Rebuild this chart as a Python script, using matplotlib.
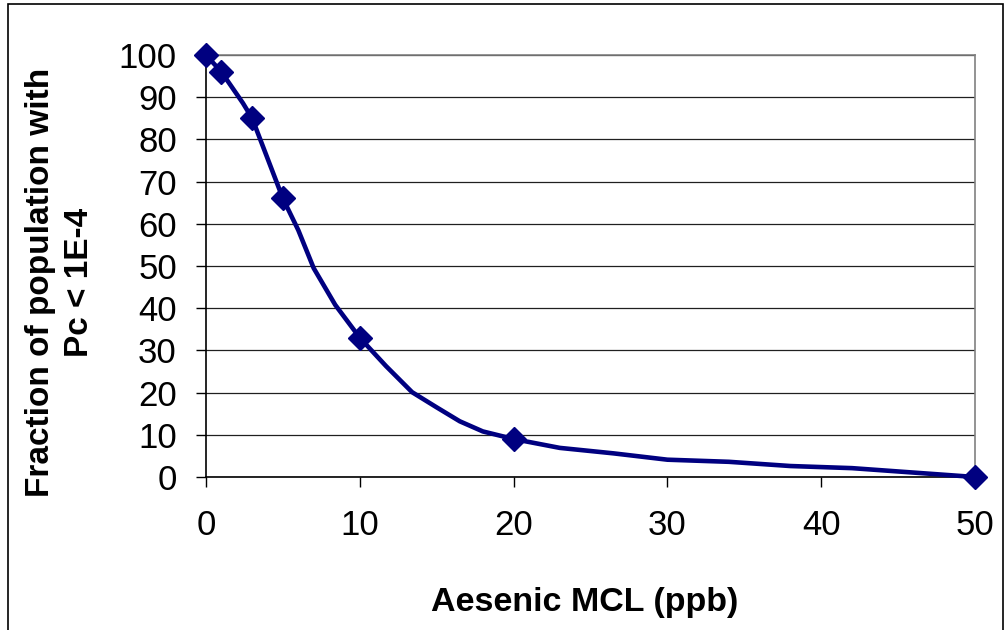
import matplotlib.pyplot as plt
from matplotlib.patches import Rectangle

plt.rcParams['font.family'] = ['Liberation Sans', 'DejaVu Sans']

# smoothed curve points
curve_x = [0, 1, 2.4, 3, 5, 6, 7, 8.4, 10, 11.7, 13.4, 15, 16.5, 18, 20,
           23, 26.5, 30, 34, 38, 42, 50]
curve_y = [100, 96, 88.6, 85, 66, 58.5, 49.5, 40.8, 33, 26.3, 20.1, 16.5,
           13.2, 10.8, 9, 6.9, 5.6, 4.1, 3.6, 2.6, 2.1, 0]

# computed MCL values
mcl = [0, 1, 3, 5, 10, 20, 50]
fraction = [100, 96, 85, 66, 33, 9, 0]

W, H = 1007, 630
fig = plt.figure(figsize=(W / 100, H / 100), dpi=100)
ax = fig.add_axes([206 / W, 1 - 477 / H, (975 - 206) / W, (477 - 55) / H])

navy = '#000080'
ax.plot(curve_x, curve_y, color=navy, lw=3.3, solid_joinstyle='round', zorder=3, clip_on=False)
ax.plot(mcl, fraction, linestyle='none', marker='D', markersize=12,
        color=navy, zorder=4, clip_on=False)

ax.set_xlim(0, 50)
ax.set_ylim(0, 100)
ax.set_xticks(range(0, 51, 10))
ax.set_yticks(range(0, 101, 10))
ax.yaxis.grid(True, color='#202020', lw=0.9)
ax.set_axisbelow(True)

for side in ['top', 'right']:
    ax.spines[side].set_color('#808080')
    ax.spines[side].set_linewidth(1.2)
for side in ['left', 'bottom']:
    ax.spines[side].set_color('black')
    ax.spines[side].set_linewidth(1.2)

ax.tick_params(axis='both', direction='out', length=7, width=1, labelsize=25,
               color='black')
ax.tick_params(axis='x', pad=16)
ax.tick_params(axis='y', pad=14)

fig.text(585 / W, 1 - 603 / H, 'Aesenic MCL (ppb)', ha='center', va='center',
         fontsize=24.5, fontweight='bold')
fig.text(60 / W, 1 - 282 / H, 'Fraction of population with\nPc < 1E-4',
         ha='center', va='center', rotation=90, fontsize=24,
         fontweight='bold', linespacing=1.3)

# chart area border
fig.patches.append(Rectangle((8 / W, -0.05), (1003 - 8) / W, 1 - 4 / H + 0.05,
                             transform=fig.transFigure, fill=False,
                             edgecolor='black', lw=1.2))

fig.savefig('out.png', dpi=100)
